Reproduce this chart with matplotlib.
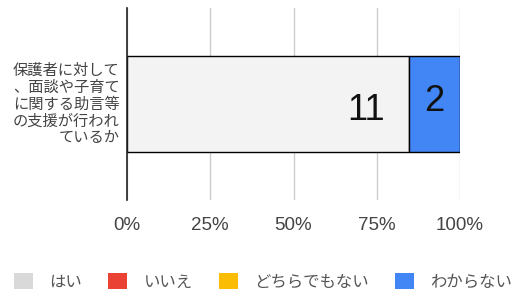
import matplotlib
matplotlib.use("Agg")
import matplotlib.pyplot as plt
from matplotlib.patches import Patch
from matplotlib.ticker import PercentFormatter

plt.rcParams["font.family"] = ["Noto Sans CJK JP", "DejaVu Sans"]
NUM_FONT = ["Liberation Sans", "DejaVu Sans"]

question = "保護者に対して\n、面談や子育て\nに関する助言等\nの支援が行われ\nているか"
answers = ["はい", "いいえ", "どちらでもない", "わからない"]
counts = [11, 0, 0, 2]
ticks = [0, 0.25, 0.5, 0.75, 1.0]

BAR_COLORS = ["#f3f3f3", "#ea4335", "#fbbc04", "#4285f4"]
LEGEND_COLORS = ["#d9d9d9", "#ea4335", "#fbbc04", "#4285f4"]

fig = plt.figure(figsize=(5.26, 2.98), dpi=100)
ax = fig.add_axes([127 / 526, 1 - 200 / 298, 333 / 526, 192 / 298])

total = sum(counts)
left = 0.0
for i, (name, c) in enumerate(zip(answers, counts)):
    if c == 0:
        continue
    frac = c / total
    ax.barh(0, frac, left=left, height=1.01, color=BAR_COLORS[i],
            edgecolor="black", linewidth=1, zorder=3)
    if i == 0:
        ax.annotate(str(c), (left + frac, 0), xytext=(-17, -4.5),
                    textcoords="offset points", ha="right", va="center",
                    fontsize=26, color="#111111", family=NUM_FONT, zorder=4)
    else:
        ax.annotate(str(c), (left + frac / 2, 0), xytext=(0, 1.5),
                    textcoords="offset points", ha="center", va="center",
                    fontsize=26, color="#111111", family=NUM_FONT, zorder=4)
    left += frac

ax.set_xlim(0, 1)
ax.set_ylim(-1, 1)
ax.set_xticks(ticks)
ax.xaxis.set_major_formatter(PercentFormatter(1.0, decimals=0))
ax.tick_params(axis="x", length=0, pad=12, labelsize=13.5, labelcolor="#444444")
for lbl in ax.get_xticklabels():
    lbl.set_family(NUM_FONT)
ax.set_yticks([])
ax.grid(axis="x", color="#cccccc", linewidth=1, zorder=0)
for s in ["top", "right", "bottom"]:
    ax.spines[s].set_visible(False)
ax.spines["left"].set_color("#222222")
ax.spines["left"].set_linewidth(1.2)
ax.spines["left"].set_zorder(5)

ax.text(-0.022, 0.0, question, transform=ax.get_yaxis_transform(),
        ha="right", va="center", multialignment="right",
        fontsize=11, color="#444444", linespacing=0.98)

handles = [Patch(facecolor=c, edgecolor="none") for c in LEGEND_COLORS]
fig.legend(handles, answers, loc="center", bbox_to_anchor=(0.5, 1 - 282 / 298),
           ncol=4, frameon=False, fontsize=11.8, handlelength=1.15, handleheight=1.15,
           columnspacing=1.6, handletextpad=1.0, labelcolor="#555555")

fig.savefig("out.png", dpi=100)
